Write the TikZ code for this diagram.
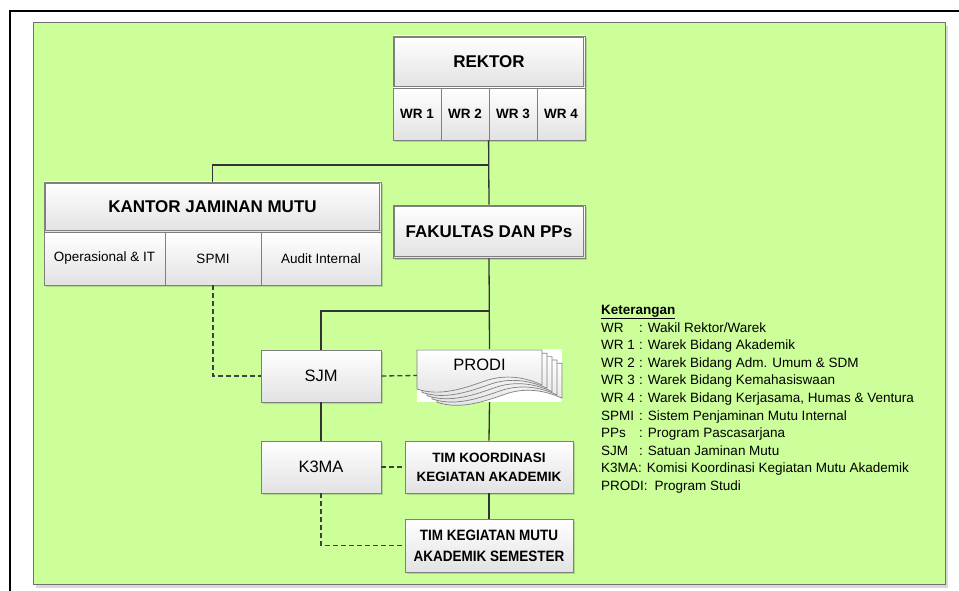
\documentclass[tikz,border=0pt]{standalone}
\usepackage{fontspec}
\setmainfont{Liberation Sans}
\newfontfamily\condfont[FakeStretch=0.9]{Liberation Sans}
\usetikzlibrary{shadows,calc}
\definecolor{bggreen}{HTML}{CCFF99}
\definecolor{bgline}{HTML}{707070}
\definecolor{boxline}{HTML}{7F7F7F}
\definecolor{boxbot}{HTML}{E2E2E2}
\definecolor{conn}{HTML}{333333}
\definecolor{dashc}{HTML}{404040}
\newcommand\legrow[2]{\makebox[38pt][l]{#1}: #2}
\tikzset{
  box/.style={draw=boxline, line width=0.8pt, top color=white, bottom color=boxbot,
    inner sep=0pt, align=center,
    drop shadow={shadow xshift=2pt, shadow yshift=-2pt, fill=black, opacity=0.15}},
  titlebox/.style={box, font=\fontsize{17}{20}\selectfont\bfseries},
  wrcell/.style={box, minimum width=48, minimum height=52, font=\fontsize{13.5}{16}\selectfont\bfseries},
  cell/.style={box, minimum height=53, font=\fontsize{13.5}{16}\selectfont},
  unitbox/.style={box, minimum width=120, minimum height=52, font=\fontsize{16.5}{20}\selectfont},
  timbox/.style={box, minimum width=168, font=\fontsize{13.5}{19}\selectfont\bfseries},
  innerline/.style={draw=boxline, line width=0.6pt},
  solidconn/.style={draw=conn, line width=1.3pt},
  dashconn/.style={draw=dashc, line width=1.3pt, dash pattern=on 5pt off 3pt},
  legend/.style={anchor=base west, inner sep=0pt, font=\fontsize{13.5}{16}\selectfont},
  page/.style={draw=boxline, line width=0.7pt, top color=white, bottom color=boxbot}
}
\begin{document}
\begin{tikzpicture}[x=1pt,y=-1pt]
\useasboundingbox (0,0) rectangle (959,591);
% outer frame
\draw[black, line width=2pt] (10,592) -- (10,11) -- (960,11);
% green background
\fill[black!15] (36,26) rectangle (948,588);
\filldraw[fill=bggreen, draw=bgline, line width=1pt] (33,23) rectangle (945,584);

% REKTOR
\node[titlebox, minimum width=192, minimum height=52] (rek) at (489,62) {REKTOR};
\draw[innerline] ([shift={(2pt,-2pt)}]rek.north west) rectangle ([shift={(-2pt,2pt)}]rek.south east);
\node[wrcell] (wr1) at (417,114) {WR 1};
\node[wrcell] (wr2) at (465,114) {WR 2};
\node[wrcell] (wr3) at (513,114) {WR 3};
\node[wrcell] (wr4) at (561,114) {WR 4};

% KANTOR JAMINAN MUTU
\node[titlebox, minimum width=337, minimum height=50] (kjm) at (212.5,207) {KANTOR JAMINAN MUTU};
\draw[innerline] ([shift={(2pt,-2pt)}]kjm.north west) rectangle ([shift={(-2pt,2pt)}]kjm.south east);
\node[cell, minimum width=121] (opit) at (104.5,258.5) {Operasional \& IT};
\node[cell, minimum width=96] (spmi) at (213,258.5) {SPMI};
\node[cell, minimum width=120] (audit) at (321,258.5) {Audit Internal};

% FAKULTAS
\node[titlebox, minimum width=192, minimum height=53] (fak) at (489,231.5) {FAKULTAS DAN PPs};
\draw[innerline] ([shift={(2pt,-2pt)}]fak.north west) rectangle ([shift={(-2pt,2pt)}]fak.south east);

% SJM, K3MA
\node[unitbox] (sjm) at (321,376) {SJM};
\node[unitbox] (k3ma) at (321,467) {K3MA};

% PRODI (multiple documents)
\node[fill=white, inner sep=0pt, minimum width=145, minimum height=53] (prodibg) at (489.5,375.5) {};
\foreach \k in {4,3,2,1,0}{
  \pgfmathsetmacro\dx{5*\k}
  \pgfmathsetmacro\dy{3.3*\k}
  \path[page] (417+\dx,350+\dy) -- (542+\dx,350+\dy) -- (542+\dx,385+\dy)
    .. controls (525+\dx,377+\dy) and (505+\dx,374+\dy) .. (485+\dx,381+\dy)
    .. controls (465+\dx,388+\dy) and (440+\dx,397+\dy) .. (417+\dx,389+\dy) -- cycle;
}
\node[inner sep=0pt, font=\fontsize{16.5}{20}\selectfont] (prodi) at (479.5,365) {PRODI};

% TIM boxes
\node[timbox, minimum height=52] (tkk) at (489,467) {TIM KOORDINASI\\KEGIATAN AKADEMIK};
\node[timbox, minimum height=53, font=\condfont\fontsize{15}{21}\selectfont\bfseries] (tkm) at (489,545.5) {TIM KEGIATAN MUTU\\AKADEMIK SEMESTER};

% connectors
\coordinate (j1) at (489,165);
\coordinate (j2) at (489,311);
\draw[solidconn] (wr3.south west) -- (fak.north);
\draw[solidconn] (j1) -| (kjm.north);
\draw[solidconn] (fak.south) -- (prodibg.north);
\draw[solidconn] (j2) -| (sjm.north);
\draw[solidconn] (sjm.south) -- (k3ma.north);
\draw[solidconn] (prodibg.south) -- (tkk.north);
\draw[solidconn] (tkk.south) -- (tkm.north);
\draw[dashconn] (spmi.south) |- (sjm.west);
\draw[dashconn] (sjm.east) -- (prodibg.west);
\draw[dashconn] (k3ma.east) -- (tkk.west);
\draw[dashconn] (k3ma.south) |- (tkm.west);

% legend
\node[legend, font=\fontsize{13.5}{16}\selectfont\bfseries] (ket) at (601,314) {\underline{Keterangan}};
\node[legend] (l1) at (601,332) {\legrow{WR}{Wakil Rektor/Warek}};
\node[legend] (l2) at (601,349.6) {\legrow{WR 1}{Warek Bidang Akademik}};
\node[legend] (l3) at (601,367.2) {\legrow{WR 2}{Warek Bidang Adm. Umum \& SDM}};
\node[legend] (l4) at (601,384.8) {\legrow{WR 3}{Warek Bidang Kemahasiswaan}};
\node[legend] (l5) at (601,402.4) {\legrow{WR 4}{Warek Bidang Kerjasama, Humas \& Ventura}};
\node[legend] (l6) at (601,420) {\legrow{SPMI}{Sistem Penjaminan Mutu Internal}};
\node[legend] (l7) at (601,437.6) {\legrow{PPs}{Program Pascasarjana}};
\node[legend] (l8) at (601,455.2) {\legrow{SJM}{Satuan Jaminan Mutu}};
\node[legend] (l9) at (601,472.8) {\makebox[37pt][l]{K3MA}: Komisi Koordinasi Kegiatan Mutu Akademik};
\node[legend] (l10) at (601,490.4) {PRODI:\hspace{7pt}Program Studi};
\end{tikzpicture}
\end{document}
